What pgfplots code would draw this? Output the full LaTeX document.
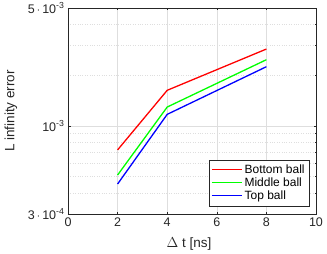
\documentclass[border=0pt]{standalone}
\usepackage{pgfplots}
\pgfplotsset{compat=1.18}
\usepackage{fontspec}
\setmainfont{Liberation Sans}
\definecolor{axgray}{gray}{0.15}
\definecolor{gridgray}{gray}{0.87}
\definecolor{pgreen}{rgb}{0,1,0}
\definecolor{pred}{rgb}{1,0,0}
\definecolor{pblue}{rgb}{0,0,1}
\begin{document}
\begin{tikzpicture}
\begin{axis}[
  scale only axis,
  width=248pt, height=206pt,
  xmin=0, xmax=10,
  ymode=log,
  ymin=3e-4, ymax=5e-3,
  xtick={0,2,4,6,8,10},
  ytick={3e-4,1e-3,5e-3},
  yticklabels={{3\,$\cdot$\,10\textsuperscript{-4}},{10\textsuperscript{-3}},{5\,$\cdot$\,10\textsuperscript{-3}}},
  minor ytick={4e-4,5e-4,6e-4,7e-4,8e-4,9e-4,2e-3,3e-3,4e-3},
  /pgf/number format/assume math mode=true,
  xmajorgrids=true, ymajorgrids=true, yminorgrids=true,
  major grid style={draw=gridgray, line width=0.4pt},
  minor grid style={draw=gridgray, dotted, line width=0.5pt},
  axis line style={draw=axgray, line width=0.5pt},
  tick style={draw=axgray, line width=0.4pt},
  tick align=inside,
  major tick length=2.5pt,
  minor tick length=1.5pt,
  ticklabel style={font=\fontsize{12.5}{14}\selectfont, text=axgray},
  xlabel={$\Delta$ t [ns]},
  ylabel={L infinity error},
  label style={font=\fontsize{13.5}{15}\selectfont, text=axgray},
  xlabel style={at={(axis description cs:0.488,-0.146)}, anchor=center},
  ylabel style={at={(axis description cs:-0.23,0.5)}, anchor=center},
  legend style={at={(axis description cs:0.973,0.039)}, anchor=south east,
    font=\fontsize{12}{13}\selectfont, draw=axgray, fill=white,
    row sep=-1pt, inner sep=2.5pt},
  legend cell align=left,
  legend image code/.code={\draw[#1] (0pt,0.6pt) -- (30pt,0.6pt);},
]
\addplot[draw=pred, line width=1.3pt] coordinates {(2,7.2e-4) (4,1.625e-3) (8,2.855e-3)};
\addlegendentry{Bottom ball}
\addplot[draw=pgreen, line width=1.3pt] coordinates {(2,5.11e-4) (4,1.293e-3) (8,2.468e-3)};
\addlegendentry{Middle ball}
\addplot[draw=pblue, line width=1.3pt] coordinates {(2,4.52e-4) (4,1.17e-3) (8,2.243e-3)};
\addlegendentry{Top ball}
\end{axis}
\pgfresetboundingbox
\path[use as bounding box] ([shift={(-68pt,-39pt)}]current axis.south west) rectangle ([shift={(11pt,8pt)}]current axis.north east);
\end{tikzpicture}
\end{document}
